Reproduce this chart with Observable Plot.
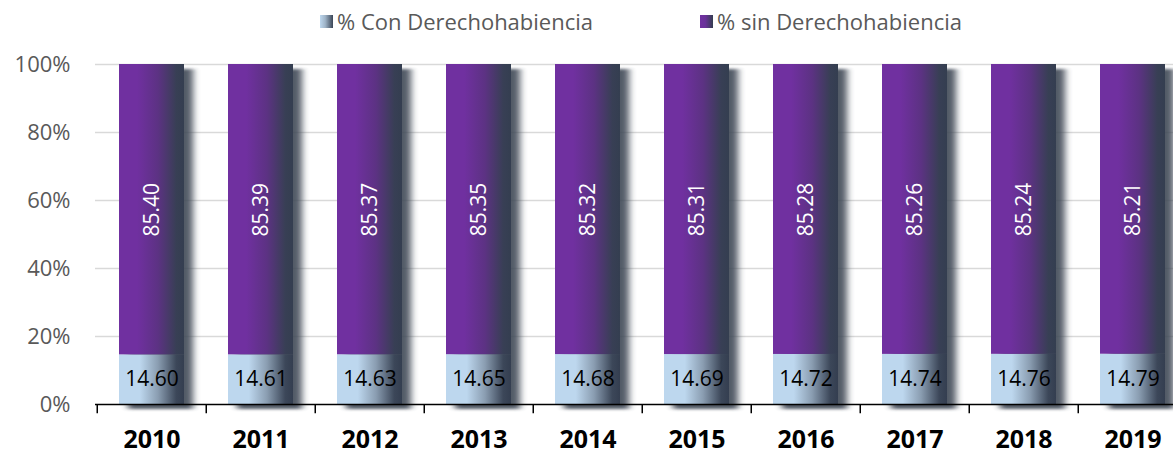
<!DOCTYPE html>
<html>
<head>
<meta charset="utf-8">
<script src="https://cdn.jsdelivr.net/npm/d3@7"></script>
<script src="https://cdn.jsdelivr.net/npm/@observablehq/plot@0.6"></script>
<style>
  html, body { margin: 0; padding: 0; background: #fff; }
  body { width: 1173px; height: 454px; overflow: hidden; font-family: "Open Sans", Lato, sans-serif; }
  #legend { position: relative; height: 40px; width: 1173px; font-size: 22px; color: #595959; }
  .item { position: absolute; top: 6px; height: 30px; display: flex; align-items: center; white-space: nowrap; }
  .sw { width: 13px; height: 13px; margin-right: 4px; }
  #chart svg { display: block; overflow: hidden; }
</style>
</head>
<body>
<div id="legend">
  <div class="item" style="left:320px"><div class="sw" style="background:linear-gradient(to right,#bdd7ee 0%,#9fb4c8 40%,#3a4556 100%)"></div><span>% Con Derechohabiencia</span></div>
  <div class="item" style="left:700px"><div class="sw" style="background:linear-gradient(to right,#7030a0 0%,#6a319a 40%,#343e50 100%)"></div><span>% sin Derechohabiencia</span></div>
</div>
<div id="chart"></div>
<script>
const years = [2010, 2011, 2012, 2013, 2014, 2015, 2016, 2017, 2018, 2019];
const conDerecho = [14.60, 14.61, 14.63, 14.65, 14.68, 14.69, 14.72, 14.74, 14.76, 14.79];
const sinDerecho = [85.40, 85.39, 85.37, 85.35, 85.32, 85.31, 85.28, 85.26, 85.24, 85.21];
const yTicks = [0, 20, 40, 60, 80, 100];

const rows = years.map((y, i) => ({year: String(y), con: conDerecho[i], sin: sinDerecho[i]}));

const bandW = 109.5;
const font = "'Open Sans', Lato, sans-serif";
const chart = Plot.plot({
  width: 1173,
  height: 414,
  marginTop: 24,
  marginBottom: 50,
  marginLeft: 95,
  marginRight: 0,
  style: {fontFamily: font, background: "#fff"},
  x: {type: "band", domain: years.map(String), range: [95, 95 + bandW * years.length], paddingInner: 0.4, paddingOuter: 0.2, align: 0.5},
  y: {domain: [0, 100], range: [364, 24]},
  marks: [
    Plot.ruleY(yTicks.filter(d => d > 0), {stroke: "#d9d9d9", strokeWidth: 1.5}),
    // shadows
    Plot.barY(rows, {x: "year", y1: 0, y2: d => d.con + d.sin, fill: "#3f4a57", dx: 9, dy: 5, className: "shadow"}),
    Plot.barY(rows, {x: "year", y1: 0, y2: "con", fill: "url(#gBlue)"}),
    Plot.barY(rows, {x: "year", y1: "con", y2: d => d.con + d.sin, fill: "url(#gPurple)"}),
    Plot.ruleY([0], {stroke: "#000", strokeWidth: 1.5}),
    Plot.ruleX(rows, {x: "year", dx: -bandW / 2, y1: 0, y2: -2.7, stroke: "#000", strokeWidth: 1.5}),
    Plot.text(rows, {x: "year", y: d => d.con / 2, text: d => d.con.toFixed(2), fill: "#000", fontSize: 21}),
    Plot.text(rows, {x: "year", y: d => d.con + d.sin / 2, text: d => d.sin.toFixed(2), fill: "#fff", fontSize: 21, rotate: -90}),
    Plot.axisY(yTicks, {tickSize: 0, tickPadding: 25, tickFormat: d => d + "%", fontSize: 22, color: "#595959", label: null}),
    Plot.axisX({tickSize: 0, tickPadding: 26, fontSize: 25, fontWeight: "bold", color: "#000", label: null})
  ]
});

const svg = d3.select(chart);
const defs = svg.insert("defs", ":first-child");
const blur = defs.append("filter").attr("id", "blurShadow").attr("x", "-50%").attr("y", "-10%").attr("width", "200%").attr("height", "120%");
blur.append("feGaussianBlur").attr("stdDeviation", "3.5 1.5");
function grad(id, stops) {
  const g = defs.append("linearGradient").attr("id", id).attr("x1", 0).attr("x2", 1).attr("y1", 0).attr("y2", 0);
  stops.forEach(([o, c]) => g.append("stop").attr("offset", o).attr("stop-color", c));
}
grad("gPurple", [[0, "#7030a0"], [0.28, "#7030a0"], [0.6, "#5c3283"], [0.88, "#383f55"], [1, "#343e50"]]);
grad("gBlue", [[0, "#bdd7ee"], [0.32, "#bdd7ee"], [0.6, "#8a9db1"], [0.88, "#3c4759"], [1, "#343e50"]]);
svg.selectAll(".shadow").attr("filter", "url(#blurShadow)").attr("opacity", 0.9);

document.getElementById("chart").appendChild(chart);
</script>
</body>
</html>
